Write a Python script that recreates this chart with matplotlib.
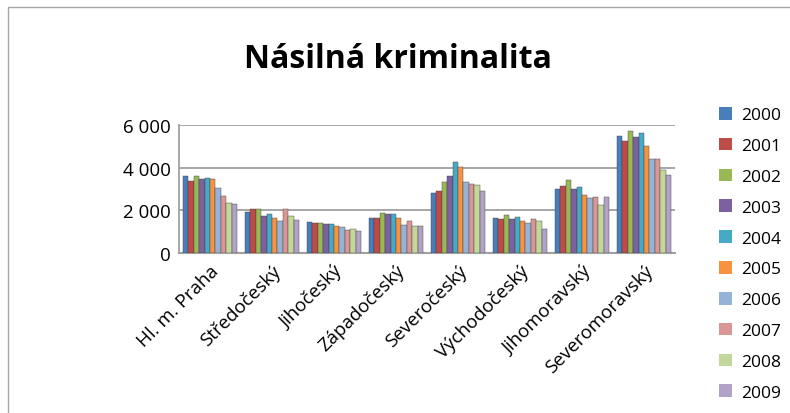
import matplotlib
matplotlib.use("Agg")
import matplotlib.pyplot as plt
from matplotlib.patches import Rectangle, Patch
from matplotlib.ticker import FuncFormatter
import numpy as np

plt.rcParams['font.family'] = ['Open Sans', 'DejaVu Sans']

regions = ['Hl. m. Praha', 'Středočeský', 'Jihočeský', 'Západočeský',
           'Severočeský', 'Východočeský', 'Jihomoravský', 'Severomoravský']
years = ['2000', '2001', '2002', '2003', '2004', '2005', '2006', '2007', '2008', '2009']

# values per region, one entry per year 2000..2009
praha = [3590, 3360, 3590, 3470, 3520, 3470, 3050, 2670, 2360, 2280]
stredocesky = [1940, 2060, 2060, 1750, 1810, 1620, 1520, 2060, 1750, 1560]
jihocesky = [1440, 1390, 1390, 1340, 1340, 1270, 1220, 1080, 1140, 1020]
zapadocesky = [1640, 1640, 1870, 1810, 1810, 1640, 1310, 1500, 1270, 1270]
severocesky = [2800, 2910, 3340, 3590, 4280, 4030, 3340, 3230, 3170, 2920]
vychodocesky = [1640, 1580, 1770, 1580, 1690, 1500, 1390, 1580, 1500, 1140]
jihomoravsky = [2980, 3120, 3410, 2980, 3090, 2720, 2560, 2610, 2250, 2610]
severomoravsky = [5500, 5250, 5720, 5420, 5610, 5000, 4390, 4390, 3910, 3660]

colors = ['#4A7EBB', '#BE4B48', '#98B954', '#7D60A0', '#46AAC5',
          '#F69240', '#95B3D7', '#D99694', '#C3D69B', '#B2A2C7']

data = np.array([praha, stredocesky, jihocesky, zapadocesky,
                 severocesky, vychodocesky, jihomoravsky, severomoravsky])

fig = plt.figure(figsize=(7.9, 4.14), dpi=100)
# chart border
fig.patches.append(Rectangle((8 / 790, -0.1), 1.2, (414 - 8) / 414 + 0.1,
                             transform=fig.transFigure, fill=False,
                             edgecolor='#A6A6A6', linewidth=1))

ax = fig.add_axes([179 / 790, (414 - 254) / 414, (675 - 179) / 790, 128 / 414])

x = np.arange(len(regions))
group_w = 0.87
bw = group_w / len(years)
for j, yr in enumerate(years):
    ax.bar(x - group_w / 2 + bw * (j + 0.5), data[:, j], width=bw,
           color=colors[j], edgecolor='#404040', linewidth=0.3, zorder=3)

ax.set_xlim(-0.5, len(regions) - 0.5)
ax.set_ylim(0, 6000)
ax.set_yticks([0, 2000, 4000, 6000])
ax.yaxis.set_major_formatter(FuncFormatter(lambda v, p: f"{int(v):,}".replace(',', ' ')))
ax.grid(axis='y', color='#A0A0A0', linewidth=1.3, zorder=0)
for s in ['top', 'right']:
    ax.spines[s].set_visible(False)
ax.spines['left'].set_color('#A0A0A0')
ax.spines['bottom'].set_color('#A0A0A0')
ax.spines['left'].set_linewidth(1.3)
ax.spines['bottom'].set_linewidth(1.5)
ax.tick_params(axis='both', length=0, labelsize=13.5, pad=6)
ax.set_xticks(x)
ax.set_xticklabels(regions, rotation=45, ha='right', rotation_mode='anchor', fontsize=13.5)

fig.text(398 / 790, 1 - 60 / 414, 'Násilná kriminalita', ha='center', va='center',
         fontsize=23, fontweight='bold')

handles = [Patch(facecolor=c, edgecolor='none') for c in colors]
fig.legend(handles, years, loc='upper left', bbox_to_anchor=(712 / 790, 1 - 101 / 414),
           frameon=False, fontsize=12.5, handlelength=0.75, handleheight=0.75,
           handletextpad=0.5, labelspacing=0.83, borderaxespad=0)

fig.savefig('out.png', dpi=100)
